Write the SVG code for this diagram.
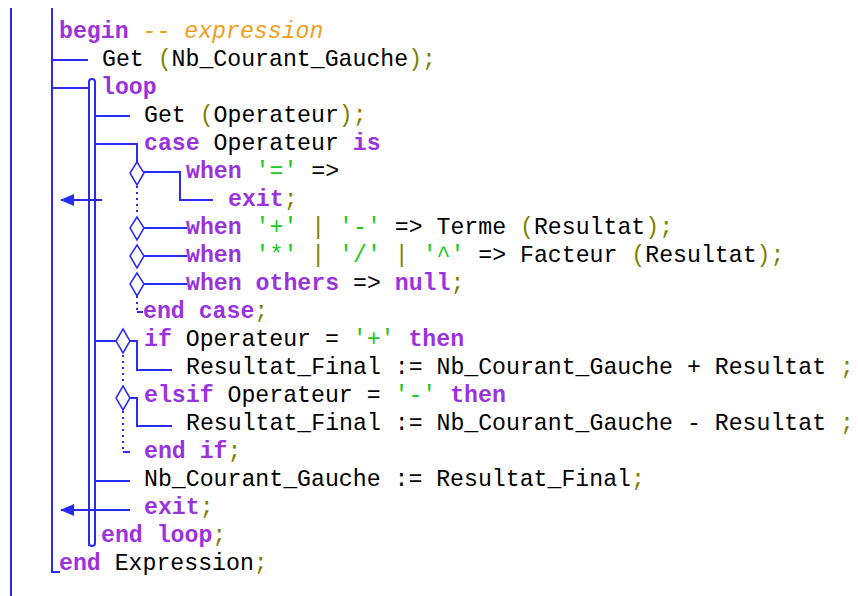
<svg xmlns="http://www.w3.org/2000/svg" width="858" height="596" viewBox="0 0 858 596">
<style>
text{font-family:"Liberation Mono","Courier New",monospace;font-size:23.2px;white-space:pre;fill:#000}
.k{fill:#9933dd;font-weight:bold}
.p{fill:#808000}
.s{fill:#22c822}
.c{fill:#f0a020;font-style:italic}
.ln{stroke:#2a2af5;stroke-width:2;fill:none}
.dm{stroke:#2a2af5;stroke-width:1.5;fill:#fff}
.dt{stroke:#2a2af5;stroke-width:2;fill:none;stroke-dasharray:2 4}
</style>
<defs>
<marker id="ah" markerWidth="14" markerHeight="12" refX="13" refY="6" orient="auto" markerUnits="userSpaceOnUse">
<path d="M0,0 L14,6 L0,12 Z" fill="#2a2af5"/>
</marker>
</defs>
<rect width="858" height="596" fill="#fff"/>
<g id="connectors">
<path class="ln" d="M11,8 V596"/>
<path class="ln" d="M52,8 V572 H60"/>
<path class="ln" d="M52,60 H88"/>
<path class="ln" d="M52,88 H89"/>
<path class="ln" d="M89,546 V82 Q89,79 92,79 Q95,79 95,82 V543 Q95,546 92,546 Q89,546 89,543"/>
<path class="ln" d="M95,116 H130"/>
<path class="ln" d="M95,144 H137 V162"/>
<path class="ln" d="M144,172 H180 V200 H213"/>
<path class="ln" d="M144,228 H187"/>
<path class="ln" d="M144,256 H187"/>
<path class="ln" d="M144,284 H187"/>
<path class="dt" d="M137,186 V216"/>
<path class="dt" d="M137,296 V310"/>
<path class="ln" d="M137,312 H143"/>
<path class="ln" d="M102,200 H61" marker-end="url(#ah)"/>
<path class="ln" d="M95,341 H116"/>
<path class="ln" d="M130,341 H137 V370 H172"/>
<path class="dt" d="M123,355 V385"/>
<path class="ln" d="M130,398 H137 V426 H172"/>
<path class="dt" d="M123,411 V449"/>
<path class="ln" d="M123,452 H130"/>
<path class="ln" d="M95,481 H130"/>
<path class="ln" d="M130,510 H61" marker-end="url(#ah)"/>
</g>
<g id="diamonds">
<path class="dm" d="M137,162 L144,173 L137,185 L130,173 Z"/>
<path class="dm" d="M137,217 L144,228 L137,240 L130,228 Z"/>
<path class="dm" d="M137,245 L144,256 L137,268 L130,256 Z"/>
<path class="dm" d="M137,273 L144,284 L137,296 L130,284 Z"/>
<path class="dm" d="M123,329 L130,341 L123,353 L116,341 Z"/>
<path class="dm" d="M123,386 L130,398 L123,410 L116,398 Z"/>
</g>
<g id="code">
<text x="59" y="38"><tspan class="k">begin</tspan> <tspan class="c">-- expression</tspan></text>
<text x="102" y="66">Get <tspan class="p">(</tspan>Nb_Courant_Gauche<tspan class="p">);</tspan></text>
<text x="101" y="94"><tspan class="k">loop</tspan></text>
<text x="144" y="122">Get <tspan class="p">(</tspan>Operateur<tspan class="p">);</tspan></text>
<text x="144" y="150"><tspan class="k">case</tspan> Operateur <tspan class="k">is</tspan></text>
<text x="186" y="178"><tspan class="k">when</tspan> <tspan class="s">'='</tspan> =&gt;</text>
<text x="228" y="206"><tspan class="k">exit</tspan><tspan class="p">;</tspan></text>
<text x="186" y="234"><tspan class="k">when</tspan> <tspan class="s">'+'</tspan> <tspan class="p">|</tspan> <tspan class="s">'-'</tspan> =&gt; Terme <tspan class="p">(</tspan>Resultat<tspan class="p">);</tspan></text>
<text x="186" y="262"><tspan class="k">when</tspan> <tspan class="s">'*'</tspan> <tspan class="p">|</tspan> <tspan class="s">'/'</tspan> <tspan class="p">|</tspan> <tspan class="s">'^'</tspan> =&gt; Facteur <tspan class="p">(</tspan>Resultat<tspan class="p">);</tspan></text>
<text x="186" y="290"><tspan class="k">when</tspan> <tspan class="k">others</tspan> =&gt; <tspan class="k">null</tspan><tspan class="p">;</tspan></text>
<text x="143" y="318"><tspan class="k">end case</tspan><tspan class="p">;</tspan></text>
<text x="144" y="346"><tspan class="k">if</tspan> Operateur = <tspan class="s">'+'</tspan> <tspan class="k">then</tspan></text>
<text x="186" y="374">Resultat_Final := Nb_Courant_Gauche + Resultat <tspan class="p">;</tspan></text>
<text x="144" y="402"><tspan class="k">elsif</tspan> Operateur = <tspan class="s">'-'</tspan> <tspan class="k">then</tspan></text>
<text x="186" y="430">Resultat_Final := Nb_Courant_Gauche - Resultat <tspan class="p">;</tspan></text>
<text x="144" y="458"><tspan class="k">end if</tspan><tspan class="p">;</tspan></text>
<text x="144" y="486">Nb_Courant_Gauche := Resultat_Final<tspan class="p">;</tspan></text>
<text x="144" y="514"><tspan class="k">exit</tspan><tspan class="p">;</tspan></text>
<text x="101" y="542"><tspan class="k">end loop</tspan><tspan class="p">;</tspan></text>
<text x="59" y="570"><tspan class="k">end</tspan> Expression<tspan class="p">;</tspan></text>
</g>
</svg>
